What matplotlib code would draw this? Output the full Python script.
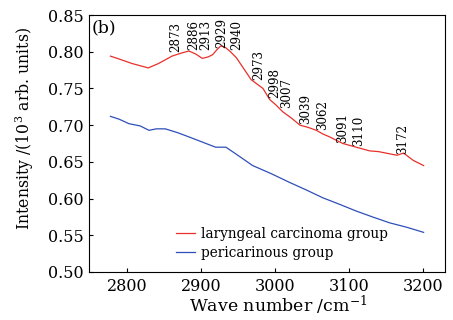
import matplotlib
matplotlib.use("Agg")
import matplotlib.pyplot as plt

plt.rcParams["font.family"] = ["DejaVu Serif"]
plt.rcParams["mathtext.fontset"] = "dejavuserif"

# red curve (laryngeal carcinoma group)
wn_red = [2778, 2790, 2807, 2818, 2829, 2843, 2861, 2873, 2884, 2893, 2902, 2910,
          2916, 2922, 2927, 2933, 2939, 2948, 2958, 2968, 2984, 2993, 3001, 3011,
          3022, 3034, 3045, 3056, 3065, 3074, 3092, 3110, 3128, 3140, 3155, 3165,
          3174, 3187, 3201]
int_red = [0.794, 0.790, 0.784, 0.781, 0.778, 0.784, 0.794, 0.798, 0.801, 0.797,
           0.791, 0.793, 0.796, 0.803, 0.808, 0.806, 0.801, 0.792, 0.777, 0.762,
           0.750, 0.735, 0.728, 0.718, 0.710, 0.700, 0.697, 0.693, 0.688, 0.684,
           0.675, 0.670, 0.665, 0.664, 0.661, 0.659, 0.662, 0.652, 0.645]

# blue curve (pericarinous group)
wn_blue = [2778, 2790, 2803, 2818, 2830, 2840, 2852, 2868, 2884, 2902, 2920, 2934,
           2950, 2970, 2995, 3020, 3042, 3065, 3088, 3110, 3132, 3155, 3178, 3201]
int_blue = [0.712, 0.708, 0.702, 0.699, 0.693, 0.695, 0.695, 0.690, 0.684, 0.677,
            0.670, 0.670, 0.659, 0.645, 0.634, 0.622, 0.612, 0.601, 0.592, 0.583,
            0.575, 0.567, 0.561, 0.554]

# peak annotations: text, where the text sits (spread apart as in the figure)
peak_labels = ["2873", "2886", "2913", "2929", "2940", "2973", "2998", "3007",
               "3039", "3062", "3091", "3110", "3172"]
peak_x = [2866, 2890, 2907, 2928, 2948, 2978, 3000, 3016, 3041, 3064, 3091, 3113, 3172]
peak_y = [0.799, 0.803, 0.803, 0.805, 0.803, 0.762, 0.737, 0.723, 0.702, 0.693,
          0.676, 0.672, 0.661]

fig = plt.figure(figsize=(4.53, 3.2), dpi=100)
ax = fig.add_axes([0.1965, 0.15, 0.786, 0.803])

ax.plot(wn_red, int_red, color="#e8302a", lw=0.9, label="laryngeal carcinoma group")
ax.plot(wn_blue, int_blue, color="#2f4fb8", lw=0.9, label="pericarinous group")

for lab, xv, yv in zip(peak_labels, peak_x, peak_y):
    ax.text(xv, yv, lab, rotation=90, ha="center", va="bottom",
            fontsize=8.6, linespacing=1.0)

ax.text(0.008, 0.985, "(b)", transform=ax.transAxes, ha="left", va="top", fontsize=12.5)

ax.set_xlim(2749, 3230)
ax.set_ylim(0.50, 0.85)
ax.set_xticks([2800, 2900, 3000, 3100, 3200])
ax.set_yticks([0.50, 0.55, 0.60, 0.65, 0.70, 0.75, 0.80, 0.85])
ax.yaxis.set_major_formatter(matplotlib.ticker.FormatStrFormatter("%.2f"))
ax.tick_params(direction="in", top=False, right=False, labelsize=11.5, length=3, pad=4)

ax.set_xlabel("Wave number /cm$^{-1}$", fontsize=12.5, labelpad=0)
ax.set_ylabel("Intensity /(10$^3$ arb. units)", fontsize=11.3)
ax.xaxis.set_label_coords(0.53, -0.085)
ax.yaxis.set_label_coords(-0.15, 0.56)

ax.legend(loc="lower left", bbox_to_anchor=(0.21, 0.0), frameon=False, fontsize=9.8,
          handlelength=1.4, handletextpad=0.4, labelspacing=0.35)

fig.savefig("out.png", dpi=100)
